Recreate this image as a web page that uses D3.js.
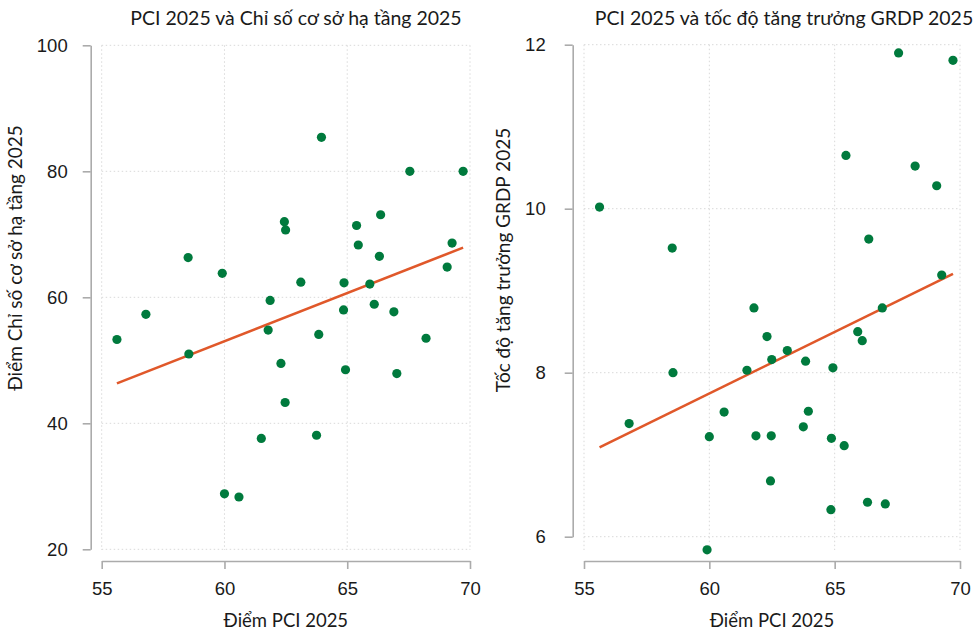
<!DOCTYPE html>
<html>
<head>
<meta charset="utf-8">
<script src="https://cdn.jsdelivr.net/npm/d3@7"></script>
<style>
  html, body { margin: 0; padding: 0; background: #fff; }
  svg { display: block; font-family: Lato, "Noto Sans", sans-serif; }
  .grid line { stroke: #d9d9d9; stroke-width: 1; stroke-dasharray: 1.5 2.5; }
  .axis path, .axis line { stroke: #ababab; stroke-width: 1.6; }
  .axis text { fill: #1a1a1a; font-size: 18.5px; }
</style>
</head>
<body>
<svg id="chart" width="974" height="631"></svg>
<script>
// PCI 2025 score of each of the 34 provinces
const pci = [55.62, 56.80, 58.52, 58.55, 59.91, 60.00, 60.59, 61.50, 61.78, 61.86,
             62.30, 62.44, 62.47, 62.49, 63.11, 63.75, 63.84, 63.95, 64.85, 64.87,
             64.93, 65.38, 65.45, 65.92, 66.10, 66.31, 66.36, 66.90, 67.02, 67.55,
             68.21, 69.07, 69.27, 69.72];
// Infrastructure index 2025, same province order
const infra = [53.3, 57.3, 66.3, 51.0, 63.8, 28.8, 28.3, 37.6, 54.8, 59.5,
               49.5, 72.0, 43.3, 70.7, 62.4, 38.1, 54.1, 85.4, 58.0, 62.3,
               48.5, 71.4, 68.3, 62.1, 58.9, 66.5, 73.1, 57.7, 47.9, 80.0,
               53.5, 64.8, 68.6, 80.0];
// GRDP growth 2025 (%), same province order
const grdp = [10.02, 7.38, 9.52, 8.00, 5.84, 7.22, 7.52, 8.03, 8.79, 7.23,
              8.44, 6.68, 7.23, 8.16, 8.27, 7.34, 8.14, 7.53, 6.33, 7.20,
              8.06, 7.11, 10.65, 8.50, 8.39, 6.42, 9.63, 8.79, 6.40, 11.90,
              10.52, 10.28, 9.19, 11.81];

const xTicks = [55, 60, 65, 70];
const infraTicks = [20, 40, 60, 80, 100];
const grdpTicks = [6, 8, 10, 12];

const titles = ["PCI 2025 và Chỉ số cơ sở hạ tầng 2025", "PCI 2025 và tốc độ tăng trưởng GRDP 2025"];
const yLabels = ["Điểm Chỉ số cơ sở hạ tầng 2025", "Tốc độ tăng trưởng GRDP 2025"];
const xLabel = "Điểm PCI 2025";

const svg = d3.select("#chart");
const dotColor = "#007a3d";
const lineColor = "#e0582a";
const textColor = "#1a1a1a";

// least squares fit y = a + b x
function fit(xs, ys) {
  const mx = d3.mean(xs), my = d3.mean(ys);
  let sxy = 0, sxx = 0;
  xs.forEach((x, i) => { sxy += (x - mx) * (ys[i] - my); sxx += (x - mx) ** 2; });
  const b = sxy / sxx;
  return { a: my - b * mx, b };
}

const panels = [
  { ys: infra, yTicks: infraTicks, yDomain: [20, 100], xRange: [101.7, 470], yRange: [549.3, 45.3],
    yAxisX: 90.7, plotBottom: 550, tickPad: 15, title: titles[0], yLabel: yLabels[0],
    titleX: 296, yLabelX: 15, yLabelY: 258 },
  { ys: grdp, yTicks: grdpTicks, yDomain: [6, 12], xRange: [584, 960], yRange: [536.7, 44.7],
    yAxisX: 572.7, plotBottom: 550, tickPad: 19, title: titles[1], yLabel: yLabels[1],
    titleX: 784, yLabelX: 503, yLabelY: 260 }
];

panels.forEach(p => {
  const x = d3.scaleLinear().domain([55, 70]).range(p.xRange);
  const y = d3.scaleLinear().domain(p.yDomain).range(p.yRange);
  const top = p.yRange[1];
  const g = svg.append("g");

  // dotted grid
  const grid = g.append("g").attr("class", "grid");
  grid.selectAll(".gx").data(xTicks).join("line")
    .attr("x1", d => x(d)).attr("x2", d => x(d))
    .attr("y1", top).attr("y2", p.plotBottom);
  grid.selectAll(".gy").data(p.yTicks).join("line")
    .attr("x1", p.xRange[0]).attr("x2", p.xRange[1])
    .attr("y1", d => y(d)).attr("y2", d => y(d));

  // axes
  g.append("g").attr("class", "axis")
    .attr("transform", `translate(0,561)`)
    .call(d3.axisBottom(x).tickValues(xTicks).tickFormat(d3.format("d"))
      .tickSize(8).tickSizeOuter(0).tickPadding(13));
  g.append("g").attr("class", "axis")
    .attr("transform", `translate(${p.yAxisX},0)`)
    .call(d3.axisLeft(y).tickValues(p.yTicks).tickFormat(d3.format("d"))
      .tickSize(8).tickSizeOuter(0).tickPadding(p.tickPad));

  // trend line over the range of PCI scores
  const f = fit(pci, p.ys);
  const ext = d3.extent(pci);
  g.append("line")
    .attr("x1", x(ext[0])).attr("y1", y(f.a + f.b * ext[0]))
    .attr("x2", x(ext[1])).attr("y2", y(f.a + f.b * ext[1]))
    .attr("stroke", lineColor).attr("stroke-width", 2.6);

  // provinces
  g.append("g").selectAll("circle").data(pci).join("circle")
    .attr("cx", d => x(d)).attr("cy", (d, i) => y(p.ys[i]))
    .attr("r", 4.6).attr("fill", dotColor);

  // texts
  g.append("text").attr("x", p.titleX).attr("y", 25)
    .attr("text-anchor", "middle").attr("font-size", 19.5).attr("fill", textColor)
    .text(p.title);
  g.append("text").attr("x", (p.xRange[0] + p.xRange[1]) / 2).attr("y", 627)
    .attr("text-anchor", "middle").attr("font-size", 18.5).attr("fill", textColor)
    .text(xLabel);
  g.append("text")
    .attr("transform", `translate(${p.yLabelX},${p.yLabelY}) rotate(-90)`)
    .attr("dy", "0.35em").attr("text-anchor", "middle").attr("font-size", 19).attr("fill", textColor)
    .text(p.yLabel);
});
</script>
</body>
</html>
